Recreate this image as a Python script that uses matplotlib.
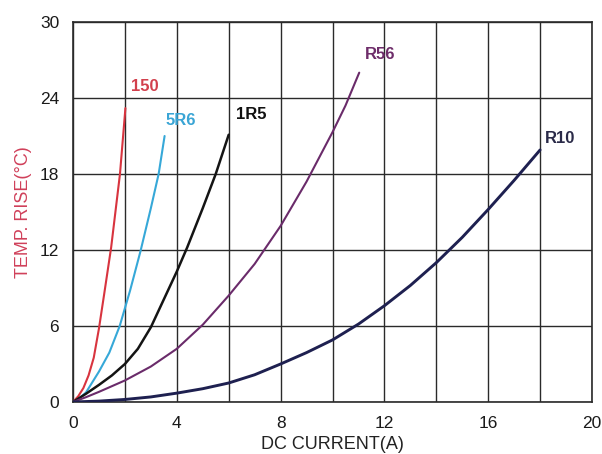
import matplotlib
matplotlib.use("Agg")
import matplotlib.pyplot as plt
from matplotlib.ticker import MultipleLocator

plt.rcParams['font.family'] = ['Liberation Sans', 'DejaVu Sans']

# Temperature rise vs DC current, one curve per inductance code
x_150 = [0, 0.2, 0.4, 0.6, 0.8, 1.0, 1.2, 1.47, 1.81, 2.02]
y_150 = [0, 0.45, 1.1, 2.1, 3.5, 5.8, 8.5, 12.2, 18.0, 23.2]

x_5r6 = [0, 0.25, 0.5, 1.0, 1.4, 1.8, 2.2, 2.6, 3.0, 3.3, 3.53]
y_5r6 = [0, 0.3, 0.75, 2.4, 3.9, 6.0, 8.8, 11.9, 15.3, 18.0, 21.0]

x_1r5 = [0, 0.5, 1.0, 1.5, 2.0, 2.5, 3.0, 3.5, 4.0, 4.4, 5.0, 5.5, 6.0]
y_1r5 = [0, 0.65, 1.35, 2.1, 3.0, 4.2, 5.9, 8.1, 10.3, 12.2, 15.3, 18.0, 21.1]

x_r56 = [0, 0.5, 1.0, 2.0, 3.0, 4.0, 5.0, 6.0, 7.0, 8.0, 9.0, 10.0, 10.5, 11.03]
y_r56 = [0, 0.38, 0.8, 1.7, 2.8, 4.2, 6.1, 8.4, 10.9, 13.9, 17.4, 21.3, 23.4, 26.0]

x_r10 = [0, 1.0, 2.0, 3.0, 4.0, 5.0, 6.0, 7.0, 8.0, 9.0, 10.0, 11.0,
         12.0, 13.0, 14.0, 15.0, 16.0, 17.0, 18.0]
y_r10 = [0, 0.07, 0.2, 0.4, 0.7, 1.05, 1.5, 2.15, 3.0, 3.9, 4.9, 6.15,
         7.6, 9.2, 11.0, 13.0, 15.2, 17.5, 19.9]

series = [
    ("150", x_150, y_150, "#d8343f", 1.5, (2.25, 24.9)),
    ("5R6", x_5r6, y_5r6, "#36a8d8", 1.5, (3.55, 22.2)),
    ("1R5", x_1r5, y_1r5, "#141414", 1.8, (6.3, 22.7)),
    ("R56", x_r56, y_r56, "#6a2b6a", 1.5, (11.25, 27.4)),
    ("R10", x_r10, y_r10, "#1e2050", 2.1, (18.2, 20.8)),
]
label_colors = {"150": "#d2404d", "5R6": "#3aa5d5", "1R5": "#111111",
                "R56": "#6e2d6a", "R10": "#2a2a48"}

x_ticks = [0, 4, 8, 12, 16, 20]
y_ticks = [0, 6, 12, 18, 24, 30]

fig = plt.figure(figsize=(6.02, 4.54), dpi=100)
ax = fig.add_axes([73 / 602, 1 - 402 / 454, 519 / 602, 380 / 454])

for name, xs, ys, color, lw, (tx, ty) in series:
    ax.plot(xs, ys, color=color, lw=lw, solid_capstyle='round',
            solid_joinstyle='round', zorder=3)
    ax.text(tx, ty, name, color=label_colors[name], fontsize=12,
            fontweight='bold', ha='left', va='center', zorder=4)

ax.set_xlim(0, 20)
ax.set_ylim(0, 30)
ax.set_xticks(x_ticks)
ax.set_yticks(y_ticks)
ax.xaxis.set_minor_locator(MultipleLocator(2))
ax.grid(True, which='both', color='#2a2a2a', lw=1.0, zorder=1)
ax.tick_params(which='both', length=0)
ax.tick_params(axis='x', pad=10, labelsize=12.5, colors='#1a1a1a')
ax.tick_params(axis='y', pad=10, labelsize=12.5, colors='#1a1a1a')
for s in ax.spines.values():
    s.set_color('#2a2a2a')
    s.set_linewidth(1.2)

ax.set_xlabel("DC CURRENT(A)", fontsize=13, color='#222222')
ax.xaxis.set_label_coords(0.5, -0.09)
ax.set_ylabel("TEMP. RISE(°C)", fontsize=13, color='#d0405a')
ax.yaxis.set_label_coords(-0.079, 0.5)

fig.savefig("out.png", dpi=100)
